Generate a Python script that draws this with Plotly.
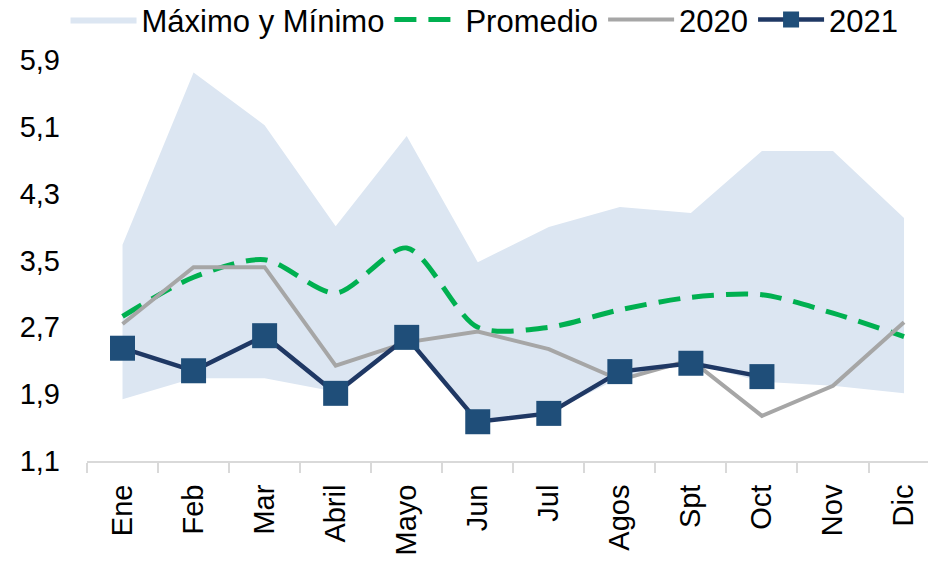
import plotly.graph_objects as go

meses = ["Ene", "Feb", "Mar", "Abril", "Mayo", "Jun", "Jul", "Agos", "Spt", "Oct", "Nov", "Dic"]
maximo = [3.69, 5.75, 5.12, 3.91, 4.99, 3.48, 3.90, 4.14, 4.07, 4.81, 4.81, 4.01]
minimo = [1.84, 2.09, 2.09, 1.93, 2.57, 1.57, 1.67, 2.10, 2.27, 2.05, 2.00, 1.91]
promedio = [2.83, 3.30, 3.51, 3.11, 3.65, 2.70, 2.70, 2.91, 3.06, 3.09, 2.87, 2.59]
serie_2020 = [2.74, 3.42, 3.42, 2.24, 2.52, 2.65, 2.44, 2.07, 2.31, 1.64, 2.00, 2.76]
serie_2021 = [2.45, 2.18, 2.60, 1.91, 2.58, 1.57, 1.67, 2.17, 2.27, 2.11]

fig = go.Figure()

# banda máximo/mínimo como polígono cerrado
fig.add_trace(go.Scatter(
    x=meses + meses[::-1],
    y=maximo + minimo[::-1],
    fill="toself",
    fillcolor="#dce6f2",
    line=dict(width=0, color="#dce6f2"),
    mode="lines",
    name="Máximo y Mínimo",
))
fig.add_trace(go.Scatter(
    x=meses, y=promedio, name="Promedio", mode="lines",
    line=dict(color="#00b050", width=5, dash="22px,12px", shape="spline", smoothing=0.8),
))
fig.add_trace(go.Scatter(
    x=meses, y=serie_2020, name="2020", mode="lines",
    line=dict(color="#a6a6a6", width=4),
))
fig.add_trace(go.Scatter(
    x=meses[:len(serie_2021)], y=serie_2021, name="2021", mode="lines+markers",
    line=dict(color="#1f3864", width=4.5),
    marker=dict(symbol="square", size=25, color="#1f4e79"),
))

# la página tiene 8px de margen en body: la figura se dibuja 8px más abajo/derecha
fig.update_layout(
    width=928,
    height=557,
    margin=dict(l=79, r=0, t=52, b=104, autoexpand=False),
    paper_bgcolor="white",
    plot_bgcolor="white",
    separators=",.",
    font=dict(family="Liberation Sans, Arial, sans-serif", size=29, color="black"),
    showlegend=True,
    legend=dict(
        orientation="h",
        xref="container", yref="paper",
        x=0.062, y=1.10, xanchor="left", yanchor="middle",
        itemwidth=66,
        font=dict(size=31),
        bgcolor="rgba(0,0,0,0)",
        traceorder="normal",
    ),
    xaxis=dict(
        type="category",
        range=[-0.5, 11.45],
        showline=True, linecolor="#d9d9d9", linewidth=2,
        ticks="outside", tickson="boundaries", ticklen=10, tickcolor="#d9d9d9", tickwidth=2,
        tickangle=-90,
        showgrid=False,
        ticklabelstandoff=10,
    ),
    yaxis=dict(
        range=[1.1, 5.9],
        tick0=1.1, dtick=0.8,
        tickformat=".1f",
        showgrid=False, zeroline=False, showline=False,
        ticks="",
        ticklabelstandoff=26,
    ),
)

fig.write_html("out.html")
